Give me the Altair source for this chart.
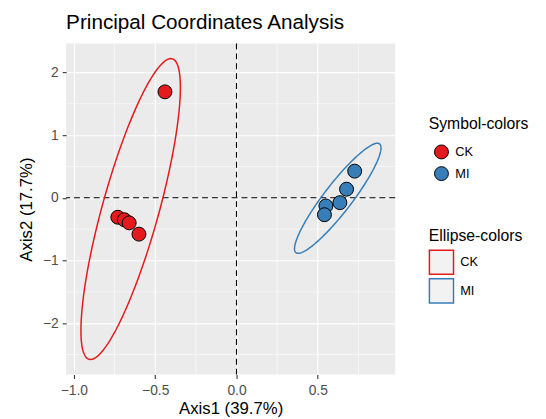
import altair as alt
import numpy as np
import pandas as pd

# ---- data ----
groups = ["CK", "CK", "CK", "CK", "CK", "MI", "MI", "MI", "MI", "MI"]
axis1 = [-0.44, -0.73, -0.69, -0.66, -0.60, 0.727, 0.677, 0.636, 0.55, 0.541]
axis2 = [1.69, -0.31, -0.35, -0.40, -0.58, 0.425, 0.137, -0.078, -0.13, -0.27]

# ellipse parameters (centre and shape matrix)
ck_center = [-0.651, -0.18]
ck_shape = [[0.0936, 0.593], [0.593, 5.76]]
mi_center = [0.623, -0.008]
mi_shape = [[0.0708, 0.214], [0.214, 0.771]]

x_ticks = [-1.0, -0.5, 0.0, 0.5]
x_minor = [-0.75, -0.25, 0.25, 0.75]
y_ticks = [-2, -1, 0, 1, 2]
y_minor = [-2.5, -1.5, -0.5, 0.5, 1.5]
x_domain = [-1.048, 0.976]
y_domain = [-2.82, 2.46]

group_names = ["CK", "MI"]
ellipse_names = ["CK ellipse", "MI ellipse"]
group_colors = ["#E41A1C", "#377EB8"]

FONT = "Liberation Sans"

pts = pd.DataFrame({"Axis1": axis1, "Axis2": axis2, "Group": groups})


def ellipse(center, shape, name, n=121):
    L = np.linalg.cholesky(np.array(shape))
    t = np.linspace(0, 2 * np.pi, n)
    circ = np.vstack([np.cos(t), np.sin(t)])
    xy = (L @ circ).T + np.array(center)
    return pd.DataFrame({"Axis1": xy[:, 0], "Axis2": xy[:, 1], "Ellipse": name, "ord": np.arange(n)})


ell = pd.concat([ellipse(ck_center, ck_shape, ellipse_names[0]),
                 ellipse(mi_center, mi_shape, ellipse_names[1])])

xs = alt.Scale(domain=x_domain, nice=False, zero=False)
ys = alt.Scale(domain=y_domain, nice=False, zero=False)

x_axis = alt.Axis(values=x_ticks, format=".1f", title="Axis1 (39.7%)", grid=True, gridColor="white",
                  gridWidth=1.1, domain=False, tickColor="#333333", tickSize=4, tickWidth=1.1,
                  labelColor="#4D4D4D", labelFontSize=14, labelFont=FONT, labelPadding=5,
                  titleFont=FONT, titleFontSize=17, titleFontWeight="normal", titleColor="black",
                  titlePadding=4)
y_axis = alt.Axis(values=y_ticks, format="d", title="Axis2 (17.7%)", grid=True, gridColor="white",
                  gridWidth=1.1, domain=False, tickColor="#333333", tickSize=4, tickWidth=1.1,
                  labelColor="#4D4D4D", labelFontSize=14, labelFont=FONT, labelPadding=4,
                  titleFont=FONT, titleFontSize=17, titleFontWeight="normal", titleColor="black",
                  titlePadding=7)

base = alt.Chart(pts).mark_point(opacity=0).encode(
    x=alt.X("Axis1:Q", scale=xs, axis=x_axis),
    y=alt.Y("Axis2:Q", scale=ys, axis=y_axis),
)

vminor = alt.Chart(pd.DataFrame({"v": x_minor})).mark_rule(color="white", strokeWidth=0.55).encode(
    x=alt.X("v:Q", scale=xs))
hminor = alt.Chart(pd.DataFrame({"v": y_minor})).mark_rule(color="white", strokeWidth=0.55).encode(
    y=alt.Y("v:Q", scale=ys))

vzero = alt.Chart(pd.DataFrame({"v": [0.0]})).mark_rule(color="black", strokeWidth=1.1, strokeDash=[6, 4]).encode(
    x=alt.X("v:Q", scale=xs))
hzero = alt.Chart(pd.DataFrame({"v": [0.0]})).mark_rule(color="black", strokeWidth=1.1, strokeDash=[6, 4]).encode(
    y=alt.Y("v:Q", scale=ys))

ellipses = alt.Chart(ell).mark_line(strokeWidth=1.5).encode(
    x=alt.X("Axis1:Q", scale=xs),
    y=alt.Y("Axis2:Q", scale=ys),
    detail="Ellipse:N",
    order="ord:Q",
    stroke=alt.Stroke("Ellipse:N", scale=alt.Scale(domain=ellipse_names, range=group_colors),
                      legend=alt.Legend(title="Ellipse-colors", orient="none", legendX=368, legendY=187,
                                        symbolType="square", symbolSize=600, symbolFillColor="#F2F2F2",
                                        symbolStrokeWidth=1.5, titleFont=FONT, titleFontSize=16,
                                        titleFontWeight="normal", titleColor="black", labelFont=FONT,
                                        labelFontSize=13, labelColor="black", rowPadding=-5,
                                        titlePadding=6, labelOffset=6,
                                        labelExpr="split(datum.label, ' ')[0]")),
)

points = alt.Chart(pts).mark_point(filled=True, size=200, stroke="black", strokeWidth=1, opacity=1).encode(
    x=alt.X("Axis1:Q", scale=xs),
    y=alt.Y("Axis2:Q", scale=ys),
    fill=alt.Fill("Group:N", scale=alt.Scale(domain=group_names, range=group_colors),
                  legend=alt.Legend(title="Symbol-colors", orient="none", legendX=368, legendY=74,
                                    symbolType="circle", symbolSize=200, symbolStrokeColor="black",
                                    symbolStrokeWidth=1, symbolOpacity=1, symbolOffset=5,
                                    titleFont=FONT, titleFontSize=16,
                                    titleFontWeight="normal", titleColor="black", labelFont=FONT,
                                    labelFontSize=13, labelColor="black", rowPadding=2,
                                    titlePadding=12, labelOffset=6)),
)

chart = alt.layer(base, vminor, hminor, vzero, hzero, ellipses, points).properties(
    width=334, height=336,
    padding={"left": 59, "top": 33, "right": 145, "bottom": 43},
    autosize=alt.AutoSizeParams(type="none"),
    background="white",
    title=alt.Title("Principal Coordinates Analysis", anchor="start", frame="group", fontSize=21,
                    font=FONT, fontWeight="normal", color="black", offset=10),
).configure_view(fill="#EBEBEB", stroke=None)

chart.save("out.html", embed_options={"renderer": "svg", "actions": False})
